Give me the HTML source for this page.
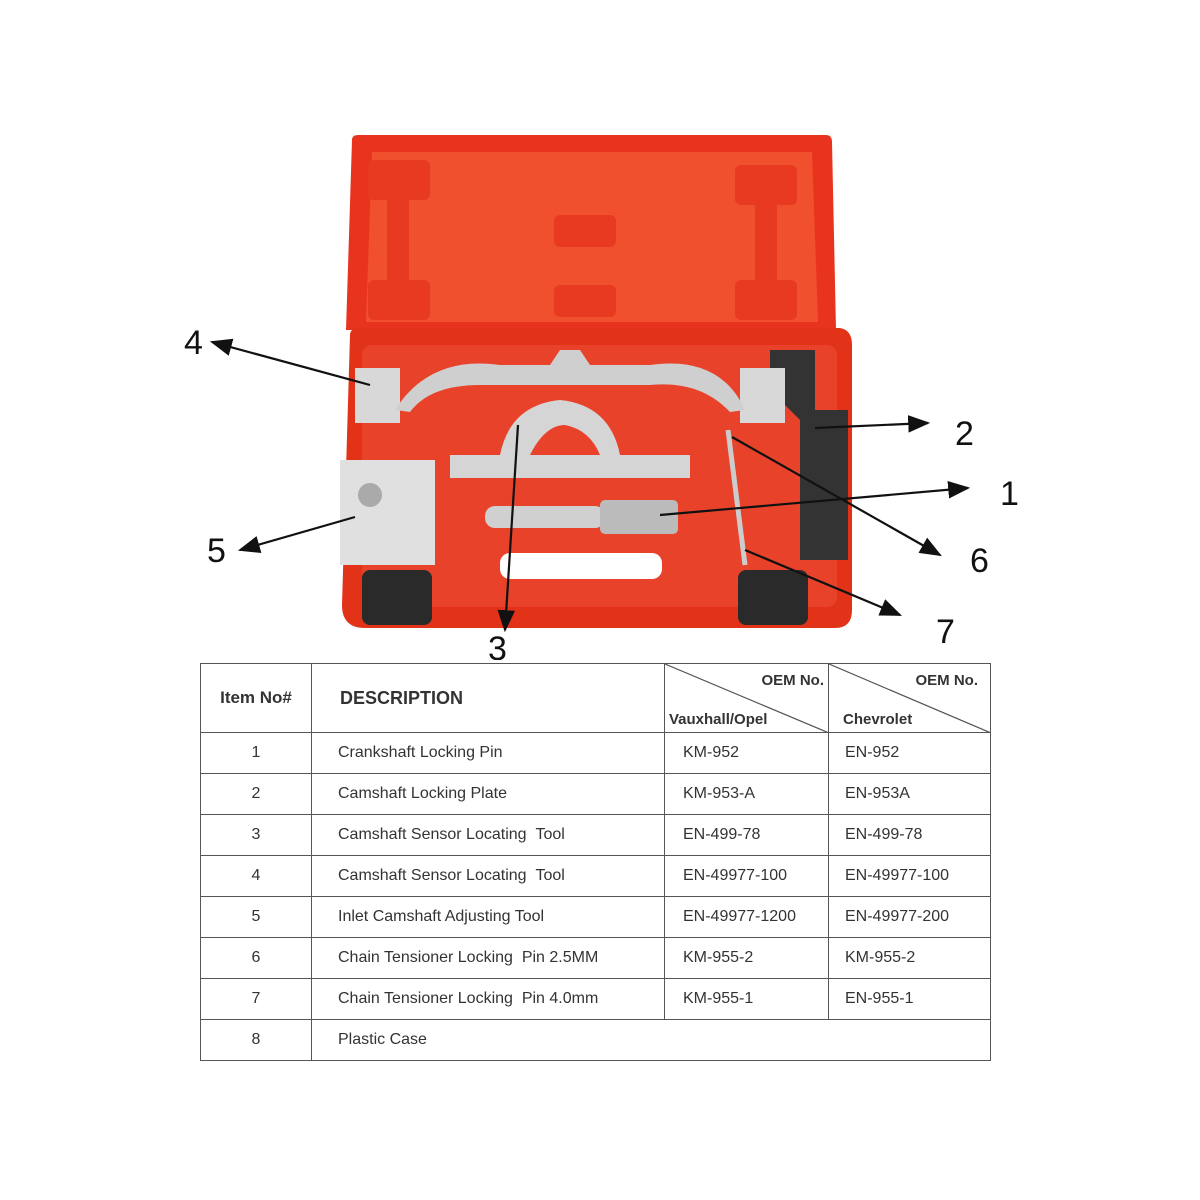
<!DOCTYPE html>
<html><head><meta charset="utf-8"><style>
body{margin:0;background:#fff;width:1200px;height:1200px;overflow:hidden;font-family:"Liberation Sans",Arial,sans-serif}
svg{position:absolute;left:0;top:0}
table{position:absolute;left:200px;top:663px;border-collapse:collapse;width:790px;table-layout:fixed}
td{border:1.5px solid #555;font-size:16px;color:#333;padding:0;overflow:hidden}
tr{height:41px}
</style></head><body>
<svg width="1200" height="660" viewBox="0 0 1200 660">
<defs><marker id="a" markerWidth="10" markerHeight="10" refX="9" refY="5" orient="auto"><path d="M0,1 L10,5 L0,9 z" fill="#111"/></marker></defs>
<path d="M352,140 Q352,135 358,135 L826,135 Q832,135 832,142 L836,330 L346,330 Z" fill="#e8341e"/>
<path d="M372,152 L812,152 L818,322 L366,322 Z" fill="#f0502e"/>
<rect x="368" y="160" width="62" height="40" rx="6" fill="#e83a20"/>
<rect x="387" y="200" width="22" height="80" fill="#e83a20"/>
<rect x="368" y="280" width="62" height="40" rx="6" fill="#e83a20"/>
<rect x="554" y="215" width="62" height="32" rx="6" fill="#e83a20"/>
<rect x="554" y="285" width="62" height="32" rx="6" fill="#e83a20"/>
<rect x="735" y="165" width="62" height="40" rx="6" fill="#e83a20"/>
<rect x="755" y="205" width="22" height="75" fill="#e83a20"/>
<rect x="735" y="280" width="62" height="40" rx="6" fill="#e83a20"/>
<path d="M350,335 Q350,328 360,328 L840,328 Q852,330 852,345 L852,610 Q852,628 835,628 L365,628 Q342,628 342,605 Z" fill="#e23218"/>
<rect x="362" y="345" width="475" height="262" rx="10" fill="#e8432a"/>
<rect x="500" y="553" width="162" height="26" rx="10" fill="#fff"/>
<rect x="362" y="570" width="70" height="55" rx="8" fill="#2a2a2a"/>
<rect x="738" y="570" width="70" height="55" rx="8" fill="#2a2a2a"/>
<path d="M770,350 L815,350 L815,410 L848,410 L848,560 L800,560 L800,420 L770,390 Z" fill="#333"/>
<rect x="355" y="368" width="45" height="55" fill="#d8d8d8"/>
<rect x="740" y="368" width="45" height="55" fill="#d8d8d8"/>
<path d="M395,410 Q430,355 500,365 L550,365 L560,350 L580,350 L590,365 L650,365 Q720,355 745,410 L730,412 Q700,380 650,385 L480,385 Q430,385 410,412 Z" fill="#cfcfcf"/>
<path d="M450,455 L500,455 Q510,405 560,400 Q610,405 620,455 L690,455 L690,478 L450,478 Z M530,455 Q545,425 565,425 Q590,430 600,455 Z" fill="#d5d5d5" fill-rule="evenodd"/>
<rect x="340" y="460" width="95" height="105" fill="#e0e0e0"/>
<circle cx="370" cy="495" r="12" fill="#aaa"/>
<rect x="485" y="506" width="120" height="22" rx="10" fill="#d0d0d0"/>
<rect x="600" y="500" width="78" height="34" rx="5" fill="#bbb"/>
<line x1="728" y1="430" x2="745" y2="565" stroke="#ccc" stroke-width="5"/>
<g stroke="#111" stroke-width="2.2" fill="none" marker-end="url(#a)">
<line x1="370" y1="385" x2="212" y2="342"/>
<line x1="815" y1="428" x2="928" y2="423"/>
<line x1="660" y1="515" x2="968" y2="488"/>
<line x1="732" y1="437" x2="940" y2="555"/>
<line x1="745" y1="550" x2="900" y2="615"/>
<line x1="355" y1="517" x2="240" y2="550"/>
<line x1="518" y1="425" x2="505" y2="630"/>
</g>
<g font-size="34" fill="#111" font-family="Liberation Sans,sans-serif">
<text x="184" y="354">4</text><text x="955" y="445">2</text><text x="1000" y="505">1</text>
<text x="970" y="572">6</text><text x="936" y="643">7</text><text x="207" y="562">5</text><text x="488" y="660">3</text>
</g>
</svg>
<table>
<colgroup><col style="width:111px"><col style="width:353px"><col style="width:164px"><col style="width:162px"></colgroup>
<tr style="height:69px"><td style="font-weight:bold;font-size:17px;text-align:center">Item No#</td>
<td style="font-weight:bold;font-size:18px;padding-left:28px">DESCRIPTION</td>
<td style="position:relative;font-weight:bold;font-size:15px"><svg width="164" height="69" style="position:absolute;left:0;top:0"><line x1="0" y1="0" x2="164" y2="69" stroke="#555" stroke-width="1.2"/></svg><div style="position:absolute;right:4px;top:8px">OEM No.</div><div style="position:absolute;left:4px;bottom:4px">Vauxhall/Opel</div></td>
<td style="position:relative;font-weight:bold;font-size:15px"><svg width="162" height="69" style="position:absolute;left:0;top:0"><line x1="0" y1="0" x2="162" y2="69" stroke="#555" stroke-width="1.2"/></svg><div style="position:absolute;right:12px;top:8px">OEM No.</div><div style="position:absolute;left:14px;bottom:4px">Chevrolet</div></td></tr>
<tr><td align="center">1</td><td style="padding-left:26px">Crankshaft Locking Pin</td><td style="padding-left:18px">KM-952</td><td style="padding-left:16px">EN-952</td></tr>
<tr><td align="center">2</td><td style="padding-left:26px">Camshaft Locking Plate</td><td style="padding-left:18px">KM-953-A</td><td style="padding-left:16px">EN-953A</td></tr>
<tr><td align="center">3</td><td style="padding-left:26px">Camshaft Sensor Locating &nbsp;Tool</td><td style="padding-left:18px">EN-499-78</td><td style="padding-left:16px">EN-499-78</td></tr>
<tr><td align="center">4</td><td style="padding-left:26px">Camshaft Sensor Locating &nbsp;Tool</td><td style="padding-left:18px">EN-49977-100</td><td style="padding-left:16px">EN-49977-100</td></tr>
<tr><td align="center">5</td><td style="padding-left:26px">Inlet Camshaft Adjusting Tool</td><td style="padding-left:18px">EN-49977-1200</td><td style="padding-left:16px">EN-49977-200</td></tr>
<tr><td align="center">6</td><td style="padding-left:26px">Chain Tensioner Locking &nbsp;Pin 2.5MM</td><td style="padding-left:18px">KM-955-2</td><td style="padding-left:16px">KM-955-2</td></tr>
<tr><td align="center">7</td><td style="padding-left:26px">Chain Tensioner Locking &nbsp;Pin 4.0mm</td><td style="padding-left:18px">KM-955-1</td><td style="padding-left:16px">EN-955-1</td></tr>
<tr><td align="center">8</td><td colspan="3" style="padding-left:26px">Plastic Case</td></tr>
</table>
</body></html>
